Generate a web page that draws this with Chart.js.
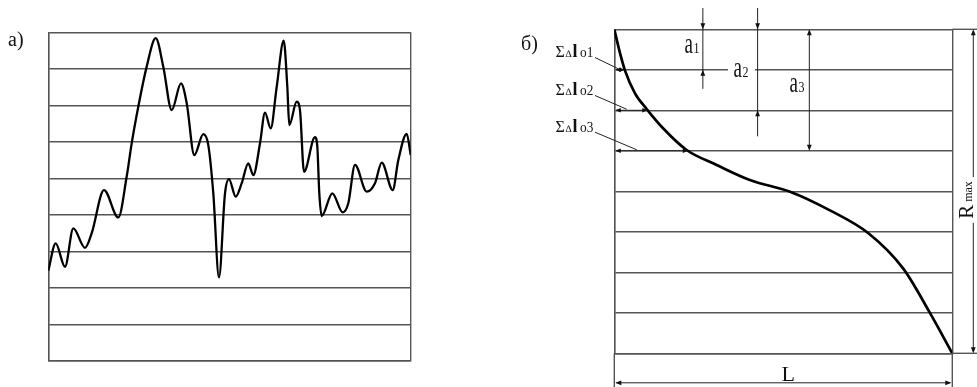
<!DOCTYPE html>
<html>
<head>
<meta charset="utf-8">
<script src="https://cdn.jsdelivr.net/npm/chart.js@4.4.1/dist/chart.umd.min.js"></script>
<style>
  html, body { margin: 0; padding: 0; background: #fff; }
  #wrap { position: relative; width: 977px; height: 387px; overflow: hidden; background: #fff; }
  #wrap canvas { position: absolute; left: 0; top: 0; }
</style>
</head>
<body>
<div id="wrap">
  <canvas id="profile" width="977" height="387"></canvas>
  <canvas id="bearing" width="977" height="387"></canvas>
</div>
<script>
// а) surface roughness profile: position along the trace, height in bands
const profileX = [0, 2.04, 4.61, 6.90, 10.13, 11.98, 15.37, 19.32, 21.63, 23.01, 24.83, 27.15, 29.64,
  31.73, 34.05, 36.62, 38.19, 40.29, 42.77, 44.15, 45.53, 47.10, 48.76, 49.86, 51.71, 53.37, 55.19,
  56.57, 58.42, 59.80, 61.37, 63.03, 64.96, 65.95, 66.50, 68.54, 69.45, 70.56, 73.59, 74.23, 74.78,
  75.44, 78.37, 81.24, 82.78, 84.63, 87.86, 90.15, 92.00, 95.04, 96.58, 98.90, 100];
const profileY = [2.47, 3.22, 2.58, 3.63, 3.10, 3.50, 4.68, 3.93, 5.05, 5.96, 6.96, 8.06, 8.84,
  8.06, 6.87, 7.60, 7.06, 5.64, 6.21, 5.91, 4.59, 2.29, 4.59, 4.98, 4.50, 4.87, 5.41,
  5.09, 5.96, 6.80, 6.37, 7.51, 8.77, 7.51, 6.46, 7.10, 6.87, 5.18, 6.13, 5.87, 4.59,
  3.97, 4.59, 4.07, 4.32, 5.37, 4.64, 4.87, 5.43, 4.68, 5.50, 6.22, 5.64];
const profileBands = 9;

// б) bearing-length curve: relative length vs. section depth (in levels from the top)
const curveX = [0, 1.69, 3.17, 6.12, 9.59, 14.5, 21.4, 30.3, 40.1, 52.0, 63.8, 75.1, 85.5, 93.3, 100];
const curveY = [0, 0.59, 1.02, 1.58, 1.97, 2.45, 2.98, 3.35, 3.72, 4.01, 4.47, 5.03, 5.91, 6.99, 8.0];
const curveBands = 8;

// section levels and their labels
const sectionLevels = [1, 2, 3];
const sectionNames = ['a', 'a', 'a'];
const sectionIndex = ['1', '2', '3'];
const lengthIndex = ['o1', 'o2', 'o3'];

const gridColor = '#555';
const ink = '#111';
const serif = '"Liberation Serif", "Times New Roman", serif';

function head(ctx, x, y, dir, len = 6, hw = 2.4) {
  ctx.beginPath();
  ctx.moveTo(x, y);
  if (dir === 'up') { ctx.lineTo(x - hw, y + len); ctx.lineTo(x + hw, y + len); }
  else if (dir === 'down') { ctx.lineTo(x - hw, y - len); ctx.lineTo(x + hw, y - len); }
  else if (dir === 'left') { ctx.lineTo(x + len, y - hw); ctx.lineTo(x + len, y + hw); }
  else { ctx.lineTo(x - len, y - hw); ctx.lineTo(x - len, y + hw); }
  ctx.closePath();
  ctx.fill();
}
function seg(ctx, x1, y1, x2, y2) {
  ctx.beginPath(); ctx.moveTo(x1, y1); ctx.lineTo(x2, y2); ctx.stroke();
}
function text(ctx, s, x, base, size, sx = 1, sy = 1, weight = '') {
  ctx.save();
  ctx.translate(x, base);
  ctx.scale(sx, sy);
  ctx.font = `${weight} ${size}px ${serif}`;
  ctx.textAlign = 'left';
  ctx.textBaseline = 'alphabetic';
  ctx.fillText(s, 0, 0);
  const w = ctx.measureText(s).width * sx;
  ctx.restore();
  return w;
}
// x where the bearing curve reaches a given level
function crossing(level) {
  for (let i = 1; i < curveY.length; i++) {
    if (curveY[i] >= level) {
      const t = (level - curveY[i - 1]) / (curveY[i] - curveY[i - 1]);
      return curveX[i - 1] + t * (curveX[i] - curveX[i - 1]);
    }
  }
  return curveX[curveX.length - 1];
}

function frameScales(maxY, reverse) {
  const grid = { color: gridColor, lineWidth: 1.4, drawTicks: false };
  const border = { display: true, color: gridColor, width: 1.4 };
  return {
    x: { type: 'linear', min: 0, max: 100, ticks: { display: false, stepSize: 100 }, grid, border },
    y: { type: 'linear', min: 0, max: maxY, reverse, ticks: { display: false, stepSize: 1 }, grid, border }
  };
}

const profileLabel = {
  id: 'profileLabel',
  afterDraw(chart) {
    const ctx = chart.ctx;
    ctx.save();
    ctx.fillStyle = ink;
    text(ctx, 'а)', 8, 46, 20);
    ctx.restore();
  }
};

new Chart(document.getElementById('profile'), {
  type: 'line',
  data: {
    datasets: [{
      data: profileX.map((x, i) => ({ x, y: profileY[i] })),
      borderColor: '#000', borderWidth: 2.3, pointRadius: 0,
      cubicInterpolationMode: 'monotone', fill: false
    }]
  },
  options: {
    responsive: false, animation: false, events: [],
    layout: { padding: { left: 48.3, top: 32.3, right: 977 - 410.7, bottom: 387 - 361 } },
    plugins: { legend: { display: false }, tooltip: { enabled: false } },
    scales: frameScales(profileBands, false)
  },
  plugins: [profileLabel]
});

const bearingMarks = {
  id: 'bearingMarks',
  afterDraw(chart) {
    const ctx = chart.ctx;
    const xs = chart.scales.x, ys = chart.scales.y;
    const { left: L, right: R, top: T, bottom: B } = chart.chartArea;
    ctx.save();

    // frame lines carried past the grid for the dimensions
    ctx.strokeStyle = gridColor; ctx.lineWidth = 1.4;
    seg(ctx, R, T, 977, T);
    seg(ctx, R, B, 977, B);
    seg(ctx, L, B, L, 387);
    seg(ctx, R, B, R, 387);

    ctx.strokeStyle = '#222'; ctx.fillStyle = '#111'; ctx.lineWidth = 1;

    // overall length L
    const yL = B + 29.5;
    seg(ctx, L + 2, yL, R - 2, yL);
    head(ctx, L + 1, yL, 'left');
    head(ctx, R - 1, yL, 'right');
    ctx.fillStyle = ink;
    ctx.font = `22px ${serif}`;
    const wL = ctx.measureText('L').width;
    text(ctx, 'L', (L + R) / 2 + 5 - wL / 2, yL - 1.5, 22);

    // profile height R max
    const xR = 973.3;
    ctx.font = `21px ${serif}`;
    const wRR = ctx.measureText('R').width;
    ctx.font = `12px ${serif}`;
    const wMax = ctx.measureText('max').width;
    const tot = wRR + 3 + wMax, yc = 200;
    seg(ctx, xR, T + 2, xR, yc - tot / 2 - 4);
    seg(ctx, xR, yc + tot / 2 + 4, xR, B - 2);
    head(ctx, xR, T, 'up');
    head(ctx, xR, B, 'down');
    ctx.save();
    ctx.translate(972.5, yc);
    ctx.rotate(-Math.PI / 2);
    text(ctx, 'R', -tot / 2, 0, 21);
    text(ctx, 'max', -tot / 2 + wRR + 3, -0.5, 12);
    ctx.restore();

    // figure label
    text(ctx, 'б)', 521, 49.5, 20);

    // section depths a1, a2, a3
    const dimX = [26.2, 42.4, 57.7];
    sectionLevels.forEach((lv, i) => {
      const x = xs.getPixelForValue(dimX[i]);
      const yv = ys.getPixelForValue(lv);
      ctx.strokeStyle = '#222'; ctx.fillStyle = '#111';
      if (i < 2) {
        seg(ctx, x, 8, x, yv + (i === 0 ? 19 : 26));
        head(ctx, x, T, 'down');
        head(ctx, x, yv, 'up');
      } else {
        seg(ctx, x, T + 2, x, yv - 2);
        head(ctx, x, T, 'up');
        head(ctx, x, yv, 'down');
      }
    });
    // label a1 left of its line
    const y1 = ys.getPixelForValue(1);
    ctx.fillStyle = ink;
    let w = text(ctx, sectionNames[0], 684.5, 53, 19, 1, 1.5);
    text(ctx, sectionIndex[0], 684.5 + w + 0.5, 53, 15, 0.8, 1);
    // label a2 set into the first section line
    ctx.fillStyle = '#fff';
    ctx.fillRect(728, y1 - 2, 27, 4);
    ctx.fillStyle = ink;
    w = text(ctx, sectionNames[1], 733.5, 76.5, 19, 1, 1.5);
    text(ctx, sectionIndex[1], 733.5 + w + 0.5, 76.5, 15, 0.8, 1);
    // label a3 left of its line
    w = text(ctx, sectionNames[2], 789.5, 92, 19, 1, 1.5);
    text(ctx, sectionIndex[2], 789.5 + w + 0.5, 92, 15, 0.8, 1);

    // summed lengths at each section
    const bases = [57, 95, 131.7];
    const leadEnd = [4, 12.5, 22.5];
    sectionLevels.forEach((lv, i) => {
      const yv = ys.getPixelForValue(lv);
      const xc = xs.getPixelForValue(crossing(lv));
      ctx.strokeStyle = '#222'; ctx.fillStyle = '#111'; ctx.lineWidth = 1;
      seg(ctx, L + 2, yv, xc - 2, yv);
      head(ctx, L + 1, yv, 'left', 5.5, 2.2);
      head(ctx, xc, yv, 'right', 5.5, 2.2);
      // leader
      seg(ctx, 595, bases[i] + 0.5, L + leadEnd[i], yv - 1);
      // label Σ∆l with index
      const x0 = 555.5;
      ctx.fillStyle = ink;
      text(ctx, 'Σ', x0, bases[i], 16);
      text(ctx, '∆', x0 + 10, bases[i], 10);
      text(ctx, 'l', x0 + 17, bases[i], 18, 1, 1, 'bold');
      text(ctx, lengthIndex[i], x0 + 24.5, bases[i], 14, 0.95, 1);
    });

    ctx.restore();
  }
};

new Chart(document.getElementById('bearing'), {
  type: 'line',
  data: {
    datasets: [{
      data: curveX.map((x, i) => ({ x, y: curveY[i] })),
      borderColor: '#000', borderWidth: 2.7, pointRadius: 0,
      cubicInterpolationMode: 'monotone', fill: false
    }]
  },
  options: {
    responsive: false, animation: false, events: [],
    layout: { padding: { left: 614.3, top: 29.3, right: 977 - 952.3, bottom: 387 - 353.3 } },
    plugins: { legend: { display: false }, tooltip: { enabled: false } },
    scales: frameScales(curveBands, true)
  },
  plugins: [bearingMarks]
});
</script>
</body>
</html>
